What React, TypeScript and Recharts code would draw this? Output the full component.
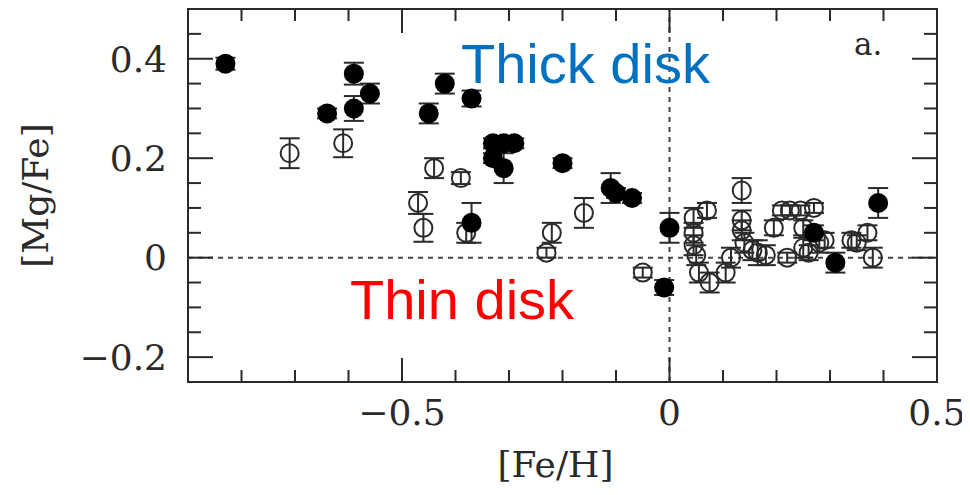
import React from 'react';
import { ScatterChart, Scatter, XAxis, YAxis, ErrorBar, ReferenceLine, ReferenceArea } from 'recharts';

// thick disk stars (filled symbols)
const thickFeH = [-0.83, -0.64, -0.59, -0.59, -0.56, -0.45, -0.42, -0.37, -0.33, -0.31, -0.29, -0.33, -0.31, -0.2, -0.11, -0.1, -0.07, -0.37, 0.0, -0.01, 0.27, 0.31, 0.39];
const thickMgFe = [0.39, 0.29, 0.37, 0.3, 0.33, 0.29, 0.35, 0.32, 0.23, 0.23, 0.23, 0.2, 0.18, 0.19, 0.14, 0.13, 0.12, 0.07, 0.06, -0.06, 0.05, -0.01, 0.11];
const thickErr = [0.012, 0.01, 0.022, 0.025, 0.02, 0.02, 0.02, 0.016, 0.01, 0.01, 0.01, 0.01, 0.03, 0.01, 0.03, 0.01, 0.01, 0.04, 0.03, 0.015, 0.015, 0.02, 0.03];

// thin disk stars (open symbols)
const thinFeH = [-0.71, -0.61, -0.44, -0.39, -0.47, -0.46, -0.38, -0.22, -0.23, -0.16, -0.05, 0.045, 0.07, 0.045, 0.045, 0.05, 0.055, 0.075, 0.105, 0.115, 0.135, 0.135, 0.135, 0.14, 0.155, 0.165, 0.18, 0.195, 0.21, 0.225, 0.22, 0.245, 0.25, 0.25, 0.27, 0.28, 0.29, 0.34, 0.35, 0.37, 0.38, 0.26];
const thinMgFe = [0.21, 0.23, 0.18, 0.16, 0.11, 0.06, 0.05, 0.05, 0.01, 0.09, -0.03, 0.08, 0.095, 0.05, 0.025, 0.005, -0.03, -0.05, -0.03, 0.0, 0.135, 0.075, 0.055, 0.03, 0.015, 0.01, 0.005, 0.06, 0.095, 0.095, 0.0, 0.095, 0.06, 0.02, 0.1, 0.03, 0.035, 0.035, 0.03, 0.05, 0.0, 0.01];
const thinErr = [0.03, 0.028, 0.02, 0.012, 0.022, 0.028, 0.02, 0.02, 0.01, 0.03, 0.01, 0.02, 0.015, 0.02, 0.02, 0.02, 0.02, 0.02, 0.02, 0.02, 0.025, 0.02, 0.02, 0.02, 0.02, 0.025, 0.02, 0.015, 0.01, 0.01, 0.01, 0.01, 0.015, 0.02, 0.01, 0.02, 0.015, 0.015, 0.015, 0.015, 0.02, 0.015];

const xMajorTicks = [-0.5, 0, 0.5];
const xMinorTicks = [-0.8, -0.7, -0.6, -0.4, -0.3, -0.2, -0.1, 0.1, 0.2, 0.3, 0.4];
const yMajorTicks = [-0.2, 0, 0.2, 0.4];
const yMinorTicks = [-0.15, -0.1, -0.05, 0.05, 0.1, 0.15, 0.25, 0.3, 0.35, 0.45];

const thickData = thickFeH.map((feh, i) => ({ feh, mg: thickMgFe[i], err: thickErr[i] }));
const thinData = thinFeH.map((feh, i) => ({ feh, mg: thinMgFe[i], err: thinErr[i] }));
const xTicks = [...xMinorTicks, ...xMajorTicks].sort((a, b) => a - b);
const yTicks = [...yMinorTicks, ...yMajorTicks].sort((a, b) => a - b);

const X_DOMAIN: [number, number] = [-0.9, 0.5];
const Y_DOMAIN: [number, number] = [-0.25, 0.5];
const INK = '#2a2a2a';
const serif = 'DejaVu Serif';

// chart layout
const W = 962;
const H = 480;
const MARGIN = { top: 1, right: 33, bottom: 0, left: 0 };
const PLOT_TOP = MARGIN.top;
const PLOT_RIGHT = W - MARGIN.right;
const X_GAP = 17;
const Y_GAP = 21;

const fmt = (v: number) => (v === 0 ? '0' : v < 0 ? '\u2212' + Math.abs(v).toFixed(1) : v.toFixed(1));

// bottom axis tick: inward tick on bottom and top edge, label for major values
const XTick = (p: any) => {
  const v = p.payload.value;
  const major = xMajorTicks.includes(v);
  const len = major ? 24 : 12;
  const base = p.y - X_GAP;
  return (
    <g>
      <line x1={p.x} x2={p.x} y1={base} y2={base - len} stroke={INK} strokeWidth={2} />
      <line x1={p.x} x2={p.x} y1={PLOT_TOP} y2={PLOT_TOP + len} stroke={INK} strokeWidth={2} />
      {major && (
        <text x={p.x} y={p.y} dy="0.71em" textAnchor="middle" fontFamily={serif} fontSize={36} fill={INK}>
          {fmt(v)}
        </text>
      )}
    </g>
  );
};

// left axis tick: inward tick on left and right edge, label for major values
const YTick = (p: any) => {
  const v = p.payload.value;
  const major = yMajorTicks.includes(v);
  const len = major ? 25 : 13;
  const base = p.x + Y_GAP;
  return (
    <g>
      <line x1={base} x2={base + len} y1={p.y} y2={p.y} stroke={INK} strokeWidth={2} />
      <line x1={PLOT_RIGHT} x2={PLOT_RIGHT - len} y1={p.y} y2={p.y} stroke={INK} strokeWidth={2} />
      {major && (
        <text x={p.x} y={p.y} dy="0.355em" textAnchor="end" fontFamily={serif} fontSize={36} fill={INK}>
          {fmt(v)}
        </text>
      )}
    </g>
  );
};

const FilledDot = (p: any) => <circle cx={p.cx} cy={p.cy} r={10} fill="#000" />;
const OpenDot = (p: any) => <circle cx={p.cx} cy={p.cy} r={9} fill="none" stroke={INK} strokeWidth={2} />;

const App: React.FC = () => {
  return (
    <div style={{ position: 'relative', width: W, height: H }}>
      <ScatterChart width={W} height={H} margin={MARGIN}>
        <XAxis
          xAxisId="fe"
          dataKey="feh"
          type="number"
          domain={X_DOMAIN}
          ticks={xTicks}
          interval={0}
          allowDataOverflow
          axisLine={false}
          tickLine={false}
          tickSize={0}
          tickMargin={X_GAP}
          height={106}
          tick={XTick}
          label={{ value: '[Fe/H]', position: 'insideBottom', offset: 11, dx: -7, fontFamily: serif, fontSize: 36, fill: INK }}
        />
        <YAxis
          yAxisId="mg"
          dataKey="mg"
          type="number"
          domain={Y_DOMAIN}
          ticks={yTicks}
          interval={0}
          allowDataOverflow
          axisLine={false}
          tickLine={false}
          tickSize={0}
          tickMargin={Y_GAP}
          width={180}
          tick={YTick}
          label={{ value: '[Mg/Fe]', angle: -90, position: 'insideLeft', offset: 27, fontFamily: serif, fontSize: 36, fill: INK, style: { textAnchor: 'middle' } }}
        />

        {/* plot frame */}
        <ReferenceArea xAxisId="fe" yAxisId="mg" x1={X_DOMAIN[0]} x2={X_DOMAIN[1]} y1={Y_DOMAIN[0]} y2={Y_DOMAIN[1]} fill="none" fillOpacity={0} stroke={INK} strokeWidth={2} />

        <ReferenceLine xAxisId="fe" yAxisId="mg" y={0} stroke="#444" strokeWidth={2} strokeDasharray="5 5" />
        <ReferenceLine xAxisId="fe" yAxisId="mg" x={0} stroke="#444" strokeWidth={2} strokeDasharray="5 5" />

        <Scatter name="Thin disk" data={thinData} xAxisId="fe" yAxisId="mg" isAnimationActive={false} shape={OpenDot}>
          <ErrorBar dataKey="err" direction="y" width={10} stroke={INK} strokeWidth={2} />
        </Scatter>
        <Scatter name="Thick disk" data={thickData} xAxisId="fe" yAxisId="mg" isAnimationActive={false} shape={FilledDot}>
          <ErrorBar dataKey="err" direction="y" width={10} stroke={INK} strokeWidth={2} />
        </Scatter>
      </ScatterChart>

      <div style={{ position: 'absolute', left: 453, top: 28, fontFamily: 'Liberation Sans', fontSize: 56, lineHeight: 1, color: '#0070C0', whiteSpace: 'nowrap' }}>
        Thick disk
      </div>
      <div style={{ position: 'absolute', left: 342, top: 264, fontFamily: 'Liberation Sans', fontSize: 56, lineHeight: 1, color: '#FF0000', whiteSpace: 'nowrap' }}>
        Thin disk
      </div>
      <div style={{ position: 'absolute', left: 846, top: 21, fontFamily: serif, fontSize: 31, lineHeight: 1, color: INK, whiteSpace: 'nowrap' }}>
        a.
      </div>
    </div>
  );
};

export default App;
